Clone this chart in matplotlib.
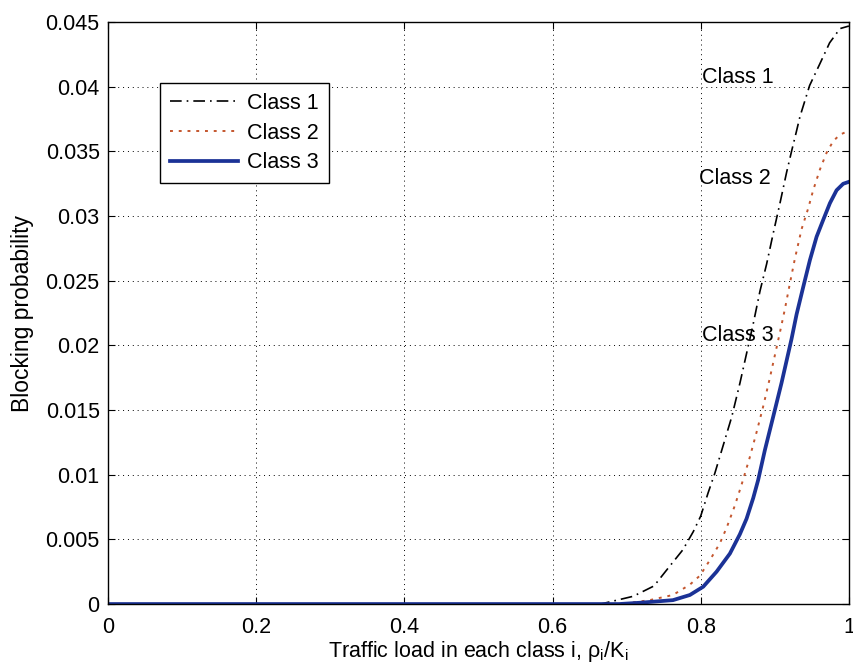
import matplotlib
matplotlib.use("Agg")
import matplotlib.pyplot as plt

plt.rcParams['font.family'] = ['Liberation Sans', 'DejaVu Sans']
plt.rcParams['mathtext.default'] = 'regular'

# Data
x1 = [0.0, 0.5, 0.6, 0.665, 0.709, 0.737, 0.755, 0.776, 0.790, 0.800, 0.810, 0.819, 0.830, 0.842, 0.853,
      0.862, 0.871, 0.880, 0.889, 0.898, 0.907, 0.916, 0.923, 0.929, 0.934, 0.947, 0.961, 0.974, 0.988, 1.0]
y1 = [0.0, 0.0, 0.0, 0.0, 0.0006, 0.0014, 0.0027, 0.0042, 0.0056, 0.0068, 0.0086, 0.0101, 0.0122, 0.0145, 0.0171,
      0.0194, 0.0217, 0.0242, 0.0263, 0.0287, 0.0310, 0.0334, 0.0351, 0.0365, 0.0377, 0.0401, 0.0418, 0.0434, 0.0445, 0.0447]

x2 = [0.0, 0.5, 0.6, 0.69, 0.718, 0.731, 0.7625, 0.7854, 0.799, 0.8124, 0.8259, 0.835, 0.846, 0.855, 0.866,
      0.875, 0.884, 0.893, 0.9069, 0.9136, 0.9204, 0.9271, 0.9362, 0.9451, 0.9518, 0.9609, 0.9699, 0.9789,
      0.9879, 1.0]
y2 = [0.0, 0.0, 0.0, 0.0, 0.0002, 0.0003, 0.0007, 0.0015, 0.0022, 0.0034, 0.0047, 0.0059, 0.0076, 0.0092, 0.0113,
      0.0132, 0.0152, 0.0174, 0.0210, 0.0228, 0.0248, 0.0267, 0.0290, 0.0306, 0.0320, 0.0336, 0.0349, 0.0358,
      0.0363, 0.0366]

x3 = [0.0, 0.5, 0.6, 0.69, 0.718, 0.7625, 0.7854, 0.8034, 0.8214, 0.8394, 0.8529, 0.8619, 0.8709, 0.8776,
      0.8866, 0.8979, 0.9091, 0.9226, 0.9294, 0.9383, 0.9474, 0.9564, 0.9653, 0.9744, 0.9834, 0.9923, 1.0]
y3 = [0.0, 0.0, 0.0, 0.0, 0.0001, 0.0003, 0.0007, 0.00134, 0.0025, 0.0039, 0.0054, 0.0066, 0.0082, 0.0096,
      0.0119, 0.0145, 0.0171, 0.0205, 0.0224, 0.0245, 0.0266, 0.0284, 0.0297, 0.0310, 0.0320, 0.0325, 0.03265]

series_labels = ['Class 1', 'Class 2', 'Class 3']
xticks = [0, 0.2, 0.4, 0.6, 0.8, 1]
xtick_labels = ['0', '0.2', '0.4', '0.6', '0.8', '1']
yticks = [0, 0.005, 0.01, 0.015, 0.02, 0.025, 0.03, 0.035, 0.04, 0.045]
ytick_labels = ['0', '0.005', '0.01', '0.015', '0.02', '0.025', '0.03', '0.035', '0.04', '0.045']

fig = plt.figure(figsize=(8.54, 6.71), dpi=100)
ax = fig.add_axes([0.1265, 0.0998, 0.8675, 0.8672])

ax.plot(x1, y1, color='black', linewidth=1.2, linestyle=(0, (7, 3, 1, 3)), label=series_labels[0])
ax.plot(x2, y2, color='#c4562e', linewidth=1.4, linestyle=(0, (1.5, 3.0)), label=series_labels[1])
ax.plot(x3, y3, color='#1b3296', linewidth=2.7, linestyle='-', label=series_labels[2])

ax.set_xlim(0, 1)
ax.set_ylim(0, 0.045)
ax.set_xticks(xticks)
ax.set_xticklabels(xtick_labels)
ax.set_yticks(yticks)
ax.set_yticklabels(ytick_labels)
ax.tick_params(direction='in', top=True, right=True, labelsize=15.5, length=5, width=0.8)
ax.tick_params(axis='x', pad=9)
ax.tick_params(axis='y', pad=6)
ax.grid(True, color='black', linestyle=(0, (1, 4)), linewidth=0.7)
for s in ax.spines.values():
    s.set_linewidth(1.0)

ax.set_xlabel(r'Traffic load in each class i, $\rho_i/K_i$', fontsize=15.5, labelpad=1)
ax.set_ylabel('Blocking probability', fontsize=16.5, labelpad=8)

ax.text(0.802, 0.0407, 'Class 1', fontsize=15.5, va='center', ha='left')
ax.text(0.798, 0.0329, 'Class 2', fontsize=15.5, va='center', ha='left')
ax.text(0.802, 0.0208, 'Class 3', fontsize=15.5, va='center', ha='left')

leg = ax.legend(loc='upper left', bbox_to_anchor=(0.070, 0.895), borderaxespad=0, fontsize=15.5,
                frameon=True, fancybox=False, edgecolor='black', framealpha=1,
                handlelength=3.2, borderpad=0.45, labelspacing=0.4, handletextpad=0.4)
leg.get_frame().set_linewidth(1.0)

fig.savefig('out.png', dpi=100)
